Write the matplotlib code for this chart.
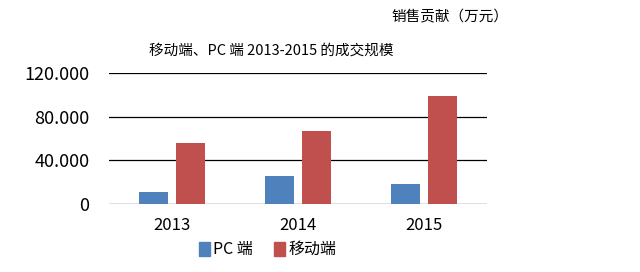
import matplotlib
matplotlib.use('Agg')
import matplotlib.pyplot as plt
import numpy as np
from matplotlib.patches import Patch

plt.rcParams['font.family'] = ['Noto Sans CJK SC', 'DejaVu Sans']

# data
years = ['2013', '2014', '2015']
pc_values = [11, 25.5, 18.5]
mobile_values = [56, 67, 99]
y_ticks = [0, 40, 80, 120]
y_tick_labels = ['0', '40.000', '80.000', '120.000']

fig = plt.figure(figsize=(6.4, 2.72), dpi=100)
ax = fig.add_axes([0.170, 0.25, 0.591, 0.482])

pos = np.arange(len(years))
w = 0.23
ax.bar(pos - 0.145, pc_values, width=w, color='#4F81BD', zorder=3)
ax.bar(pos + 0.145, mobile_values, width=w, color='#C0504D', zorder=3)

ax.set_xlim(-0.5, 2.5)
ax.set_ylim(0, 120)
ax.set_yticks(y_ticks)
ax.set_yticklabels(y_tick_labels, fontsize=13)
ax.set_xticks(pos)
ax.set_xticklabels(years, fontsize=12)
ax.tick_params(length=0, pad=14, axis='y')
ax.tick_params(length=0, pad=9, axis='x')
for s in ax.spines.values():
    s.set_visible(False)
ax.grid(axis='y', color='black', linewidth=0.9, zorder=1)

fig.text(0.424, 0.815, '移动端、PC 端 2013-2015 的成交规模', fontsize=10.5,
         ha='center', va='center')
fig.text(0.703, 0.937, '销售贡献（万元）', fontsize=10.5, ha='center', va='center')

handles = [Patch(color='#4F81BD', label='PC 端'), Patch(color='#C0504D', label='移动端')]
fig.legend(handles=handles, loc='center', bbox_to_anchor=(0.418, 0.082), ncol=2,
           frameon=False, fontsize=11.5, handlelength=0.7, handleheight=1.0,
           handletextpad=0.2, columnspacing=1.3)

fig.savefig('out.png', dpi=100, facecolor='white')
